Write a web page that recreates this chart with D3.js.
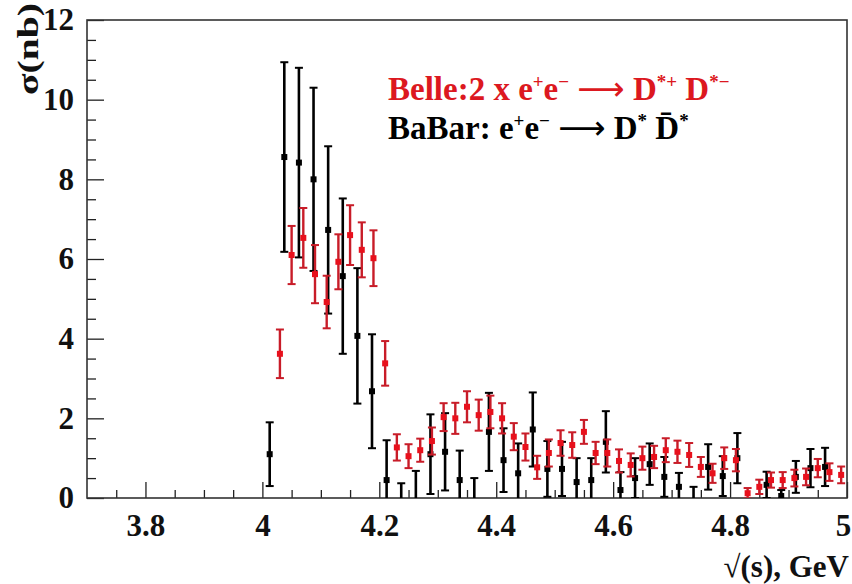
<!DOCTYPE html>
<html>
<head>
<meta charset="utf-8">
<script src="https://cdn.jsdelivr.net/npm/d3@7"></script>
<style>
  body { margin: 0; background: #fff; }
  text { font-family: "Liberation Serif", "DejaVu Serif", serif; font-weight: bold; }
</style>
</head>
<body>
<div id="chart"></div>
<script>
// BaBar e+e- -> D* D*bar (25 MeV bins)
var babarX = [4.0125, 4.0375, 4.0625, 4.0875, 4.1125, 4.1375, 4.1625, 4.1875, 4.2125, 4.2375,
              4.2625, 4.2875, 4.3125, 4.3375, 4.3625, 4.3875, 4.4125, 4.4375, 4.4625, 4.4875,
              4.5125, 4.5375, 4.5625, 4.5875, 4.6125, 4.6375, 4.6625, 4.6875, 4.7125, 4.7375,
              4.7625, 4.7875, 4.8125, 4.8625, 4.8875, 4.9125, 4.9375, 4.9625];
var babarY = [1.1, 8.56, 8.42, 8.0, 6.73, 5.57, 4.07, 2.68, 0.45, -0.4,
              -0.3, 1.1, 1.16, 0.45, -0.2, 1.66, 0.95, 0.62, 1.72, 0.73,
              0.73, 0.4, 0.45, 1.41, 0.2, 0.5, 0.85, 0.53, 0.28, -0.1,
              0.78, 0.55, 1.0, 0.33, 0.05, 0.53, 0.75, 0.78];
var babarErr = [0.8, 2.38, 2.38, 2.3, 2.1, 1.95, 1.7, 1.43, 1.0, 0.77,
                0.98, 1.0, 0.97, 0.74, 0.7, 0.98, 0.8, 0.75, 0.93, 0.7,
                0.68, 0.6, 0.55, 0.77, 0.45, 0.5, 0.52, 0.5, 0.35, 0.38,
                0.57, 0.5, 0.63, 0.33, 0.15, 0.4, 0.48, 0.48];

// Belle 2 x e+e- -> D*+ D*- (20 MeV bins)
var belleX = [4.03, 4.05, 4.07, 4.09, 4.11, 4.13, 4.15, 4.17, 4.19, 4.21,
              4.23, 4.25, 4.27, 4.29, 4.31, 4.33, 4.35, 4.37, 4.39, 4.41,
              4.43, 4.45, 4.47, 4.49, 4.51, 4.53, 4.55, 4.57, 4.59, 4.61,
              4.63, 4.65, 4.67, 4.69, 4.71, 4.73, 4.75, 4.77, 4.79, 4.81,
              4.83, 4.85, 4.87, 4.89, 4.91, 4.93, 4.95, 4.97, 4.99];
var belleY = [3.62, 6.1, 6.53, 5.62, 4.92, 5.93, 6.6, 6.23, 6.02, 3.38,
              1.27, 1.05, 1.2, 1.43, 2.03, 2.0, 2.29, 2.08, 2.16, 2.0,
              1.54, 1.28, 0.77, 1.13, 1.38, 1.33, 1.66, 1.13, 1.13, 0.93,
              0.83, 1.0, 1.03, 1.2, 1.16, 1.08, 0.78, 0.62, 1.0, 0.95,
              0.12, 0.28, 0.45, 0.45, 0.5, 0.53, 0.75, 0.65, 0.58];
var belleErr = [0.61, 0.73, 0.75, 0.73, 0.66, 0.69, 0.75, 0.69, 0.7, 0.56,
                0.33, 0.3, 0.29, 0.34, 0.35, 0.39, 0.39, 0.39, 0.41, 0.38,
                0.34, 0.34, 0.29, 0.34, 0.32, 0.32, 0.3, 0.28, 0.34, 0.29,
                0.29, 0.29, 0.28, 0.3, 0.28, 0.3, 0.25, 0.24, 0.27, 0.28,
                0.13, 0.18, 0.19, 0.2, 0.21, 0.21, 0.23, 0.22, 0.21];

var xTicks = [3.8, 4.0, 4.2, 4.4, 4.6, 4.8, 5.0];
var yTicks = [0, 2, 4, 6, 8, 10, 12];

// size of the svg and frame
var w_svg = 852, h_svg = 584;
var padL = 87, padR = 847, padT = 20, padB = 498;

var svg = d3.select("#chart").append("svg")
  .attr("width", w_svg)
  .attr("height", h_svg);

var xScale = d3.scaleLinear().domain([3.7, 5.0]).range([padL, padR]);
var yScale = d3.scaleLinear().domain([0, 12]).range([padB, padT]);

// clip for points below zero
svg.append("clipPath").attr("id", "plotclip")
  .append("rect")
  .attr("x", padL).attr("y", padT)
  .attr("width", padR - padL).attr("height", padB - padT);

// x axis, ticks pointing up into the frame
var xMinor = d3.range(3.75, 5.0, 0.05).filter(function(v) {
  return Math.abs(v * 5 - Math.round(v * 5)) > 1e-6;
});
var gx = svg.append("g").attr("transform", "translate(0," + padB + ")");
gx.append("g").call(d3.axisBottom(xScale).tickValues(xMinor).tickSize(-8).tickFormat(""));
gx.append("g").call(d3.axisBottom(xScale).tickValues(xTicks).tickSize(-16)
  .tickFormat(function(d) { return d3.format("~g")(d); }));
gx.selectAll(".domain").remove();
gx.selectAll("line").attr("stroke", "#222").attr("stroke-width", 1.3);
gx.selectAll("text")
  .attr("y", 16)
  .attr("dy", "0.71em")
  .style("font-size", "31px")
  .style("font-family", "Liberation Serif")
  .style("font-weight", "bold")
  .attr("fill", "#111");
gx.selectAll("text").filter(function(d) { return d === 5.0; })
  .attr("x", -4);

// y axis, ticks pointing right
var yMinor = d3.range(0.5, 12, 0.5).filter(function(v) { return v % 2 !== 0; });
var gy = svg.append("g").attr("transform", "translate(" + padL + ",0)");
gy.append("g").call(d3.axisLeft(yScale).tickValues(yMinor).tickSize(-9).tickFormat(""));
gy.append("g").call(d3.axisLeft(yScale).tickValues(yTicks).tickSize(-17).tickFormat(d3.format("d")));
gy.selectAll(".domain").remove();
gy.selectAll("line").attr("stroke", "#222").attr("stroke-width", 1.3);
gy.selectAll("text")
  .attr("x", -13)
  .style("font-size", "31px")
  .style("font-family", "Liberation Serif")
  .style("font-weight", "bold")
  .attr("fill", "#111");

// frame
svg.append("rect")
  .attr("x", padL).attr("y", padT)
  .attr("width", padR - padL).attr("height", padB - padT)
  .attr("fill", "none")
  .attr("stroke", "#333")
  .attr("stroke-width", 1.6);

// error bars + square markers
function drawSeries(xs, ys, es, barColor, dotColor, lineW, capW, dotSize) {
  var data = xs.map(function(x, i) { return {x: x, y: ys[i], e: es[i]}; });
  var g = svg.append("g").attr("clip-path", "url(#plotclip)");
  var pts = g.selectAll("g.pt").data(data).enter().append("g").attr("class", "pt");
  pts.append("line")
    .attr("x1", function(d) { return xScale(d.x); })
    .attr("x2", function(d) { return xScale(d.x); })
    .attr("y1", function(d) { return yScale(d.y - d.e); })
    .attr("y2", function(d) { return yScale(d.y + d.e); })
    .attr("stroke", barColor).attr("stroke-width", lineW);
  [-1, 1].forEach(function(s) {
    pts.append("line")
      .attr("x1", function(d) { return xScale(d.x) - capW / 2; })
      .attr("x2", function(d) { return xScale(d.x) + capW / 2; })
      .attr("y1", function(d) { return yScale(d.y + s * d.e); })
      .attr("y2", function(d) { return yScale(d.y + s * d.e); })
      .attr("stroke", barColor).attr("stroke-width", 2);
  });
  pts.append("rect")
    .attr("x", function(d) { return xScale(d.x) - dotSize / 2; })
    .attr("y", function(d) { return yScale(d.y) - dotSize / 2; })
    .attr("width", dotSize).attr("height", dotSize)
    .attr("fill", dotColor);
}

drawSeries(babarX, babarY, babarErr, "#000", "#000", 2.6, 8, 6);
drawSeries(belleX, belleY, belleErr, "#c81c28", "#e8101c", 2.4, 8, 6);

// legend
function legendLine(y, color, parts) {
  var t = svg.append("text")
    .attr("x", 388).attr("y", y)
    .attr("fill", color)
    .style("font-size", "33px");
  parts.forEach(function(p) {
    var s = t.append("tspan").text(p[0]);
    if (p[1] === "sup") s.attr("dy", -12).style("font-size", "19px");
    if (p[1] === "base") s.attr("dy", 12);
    if (p[1] === "arrow") s.style("font-family", "DejaVu Sans").style("font-weight", "normal");
  });
}
legendLine(100, "#dc1820", [["Belle:2 x e"], ["+", "sup"], ["e", "base"], ["\u2212", "sup"],
  [" ", "base"], ["\u27F6", "arrow"], [" D"], ["*+", "sup"], [" D", "base"], ["*\u2212", "sup"]]);
legendLine(139, "#000", [["BaBar: e"], ["+", "sup"], ["e", "base"], ["\u2212", "sup"],
  [" ", "base"], ["\u27F6", "arrow"], [" D"], ["*", "sup"], [" D\u0304", "base"], ["*", "sup"]]);

// axis titles
svg.append("text")
  .attr("x", 849).attr("y", 577)
  .attr("text-anchor", "end")
  .style("font-size", "31px")
  .attr("fill", "#111")
  .text("\u221A(s), GeV");

svg.append("text")
  .attr("transform", "translate(38,3) rotate(-90)")
  .attr("text-anchor", "end")
  .style("font-size", "30px")
  .attr("textLength", 92)
  .attr("lengthAdjust", "spacingAndGlyphs")
  .attr("fill", "#111")
  .text("\u03C3(nb)");
</script>
</body>
</html>
